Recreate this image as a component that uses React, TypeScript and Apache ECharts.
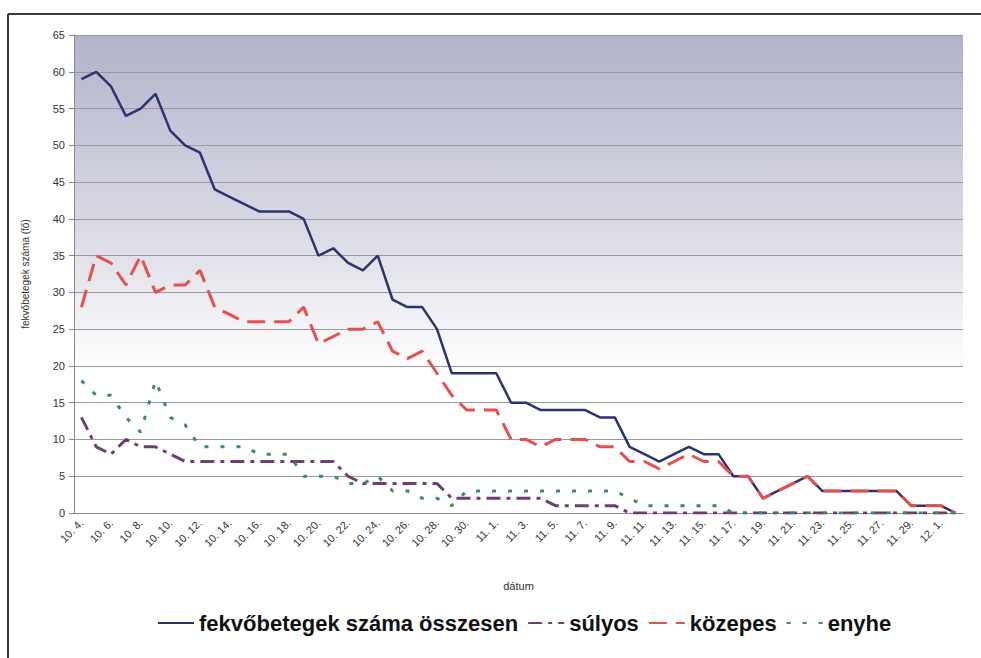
import React, { useEffect, useRef } from "react";
import * as echarts from "echarts";

const dates = [
  "10. 4.", "10. 5.", "10. 6.", "10. 7.", "10. 8.", "10. 9.", "10. 10.", "10. 11.", "10. 12.", "10. 13.",
  "10. 14.", "10. 15.", "10. 16.", "10. 17.", "10. 18.", "10. 19.", "10. 20.", "10. 21.", "10. 22.", "10. 23.",
  "10. 24.", "10. 25.", "10. 26.", "10. 27.", "10. 28.", "10. 29.", "10. 30.", "10. 31.", "11. 1.", "11. 2.",
  "11. 3.", "11. 4.", "11. 5.", "11. 6.", "11. 7.", "11. 8.", "11. 9.", "11. 10.", "11. 11.", "11. 12.",
  "11. 13.", "11. 14.", "11. 15.", "11. 16.", "11. 17.", "11. 18.", "11. 19.", "11. 20.", "11. 21.", "11. 22.",
  "11. 23.", "11. 24.", "11. 25.", "11. 26.", "11. 27.", "11. 28.", "11. 29.", "11. 30.", "12. 1.", "12. 2.",
];

const osszesen = [
  59, 60, 58, 54, 55, 57, 52, 50, 49, 44,
  43, 42, 41, 41, 41, 40, 35, 36, 34, 33,
  35, 29, 28, 28, 25, 19, 19, 19, 19, 15,
  15, 14, 14, 14, 14, 13, 13, 9, 8, 7,
  8, 9, 8, 8, 5, 5, 2, 3, 4, 5,
  3, 3, 3, 3, 3, 3, 1, 1, 1, 0,
];

const sulyos = [
  13, 9, 8, 10, 9, 9, 8, 7, 7, 7,
  7, 7, 7, 7, 7, 7, 7, 7, 5, 4,
  4, 4, 4, 4, 4, 2, 2, 2, 2, 2,
  2, 2, 1, 1, 1, 1, 1, 0, 0, 0,
  0, 0, 0, 0, 0, 0, 0, 0, 0, 0,
  0, 0, 0, 0, 0, 0, 0, 0, 0, 0,
];

const kozepes = [
  28, 35, 34, 31, 35, 30, 31, 31, 33, 28,
  27, 26, 26, 26, 26, 28, 23, 24, 25, 25,
  26, 22, 21, 22, 19, 16, 14, 14, 14, 10,
  10, 9, 10, 10, 10, 9, 9, 7, 7, 6,
  7, 8, 7, 7, 5, 5, 2, 3, 4, 5,
  3, 3, 3, 3, 3, 3, 1, 1, 1, 0,
];

const enyhe = [
  18, 16, 16, 13, 11, 18, 13, 12, 9, 9,
  9, 9, 8, 8, 8, 5, 5, 5, 4, 4,
  5, 3, 3, 2, 2, 1, 3, 3, 3, 3,
  3, 3, 3, 3, 3, 3, 3, 2, 1, 1,
  1, 1, 1, 1, 0, 0, 0, 0, 0, 0,
  0, 0, 0, 0, 0, 0, 0, 0, 0, 0,
];

const FONT = "'Liberation Sans', Arial, sans-serif";

export default function App() {
  const ref = useRef<HTMLDivElement>(null);
  useEffect(() => {
    const chart = echarts.init(ref.current!, null, { renderer: "svg" });
    chart.setOption({
      animation: false,
      backgroundColor: "#ffffff",
      textStyle: { fontFamily: FONT },
      grid: {
        left: 74,
        right: 18,
        top: 35,
        bottom: 145,
        show: true,
        borderWidth: 0,
        backgroundColor: new echarts.graphic.LinearGradient(0, 0, 0, 1, [
          { offset: 0, color: "#b2b3c9" },
          { offset: 0.4, color: "#d9d9e4" },
          { offset: 0.7, color: "#ffffff" },
          { offset: 1, color: "#ffffff" },
        ]),
      },
      graphic: [
        { type: "line", shape: { x1: 8, y1: 14, x2: 981, y2: 14 }, style: { stroke: "#3a3a3a", lineWidth: 2 } },
        { type: "line", shape: { x1: 8, y1: 14, x2: 8, y2: 658 }, style: { stroke: "#3a3a3a", lineWidth: 2 } },
      ],
      legend: {
        left: 152,
        top: 607,
        itemWidth: 36,
        itemHeight: 14,
        itemGap: 9,
        itemStyle: { opacity: 0 },
        textStyle: { fontSize: 22, fontWeight: "bold", color: "#111", fontFamily: FONT },
        data: ["fekvőbetegek száma összesen", "súlyos", "közepes", "enyhe"],
      },
      xAxis: {
        type: "category",
        data: dates,
        boundaryGap: true,
        name: "dátum",
        nameLocation: "middle",
        nameGap: 67,
        nameTextStyle: { fontSize: 11, color: "#333" },
        axisLine: { lineStyle: { color: "#888", width: 1 } },
        axisTick: { interval: 1, length: 5, lineStyle: { color: "#888" } },
        axisLabel: { interval: 1, rotate: 45, fontSize: 11, color: "#333", margin: 8 },
        splitLine: { show: false },
      },
      yAxis: {
        type: "value",
        min: 0,
        max: 65,
        interval: 5,
        name: "fekvőbetegek száma (fő)",
        nameLocation: "middle",
        nameGap: 44,
        nameTextStyle: { fontSize: 10, color: "#333" },
        axisLine: { show: true, lineStyle: { color: "#888", width: 1 } },
        axisTick: { show: true, length: 5, lineStyle: { color: "#888" } },
        axisLabel: { fontSize: 11, color: "#333", margin: 9 },
        splitLine: { lineStyle: { color: "#9a9a9a", width: 1 } },
      },
      series: [
        {
          name: "fekvőbetegek száma összesen",
          type: "line",
          data: osszesen,
          symbol: "none",
          color: "#2d3270",
          lineStyle: { color: "#2d3270", width: 2.5 },
        },
        {
          name: "súlyos",
          type: "line",
          data: sulyos,
          symbol: "none",
          color: "#6e3f72",
          lineStyle: { color: "#6e3f72", width: 3, type: [14, 6, 4, 6] },
        },
        {
          name: "közepes",
          type: "line",
          data: kozepes,
          symbol: "none",
          color: "#e5504f",
          lineStyle: { color: "#e5504f", width: 3, type: [18, 9] },
        },
        {
          name: "enyhe",
          type: "line",
          data: enyhe,
          symbol: "none",
          color: "#3f8a5e",
          lineStyle: { color: "#3f8a5e", width: 3, type: [4, 12] },
        },
      ],
    });
    return () => chart.dispose();
  }, []);
  return (
    <div
      ref={ref}
      style={{ position: "fixed", left: 0, top: 0, width: 981, height: 658, background: "#fff" }}
    />
  );
}
